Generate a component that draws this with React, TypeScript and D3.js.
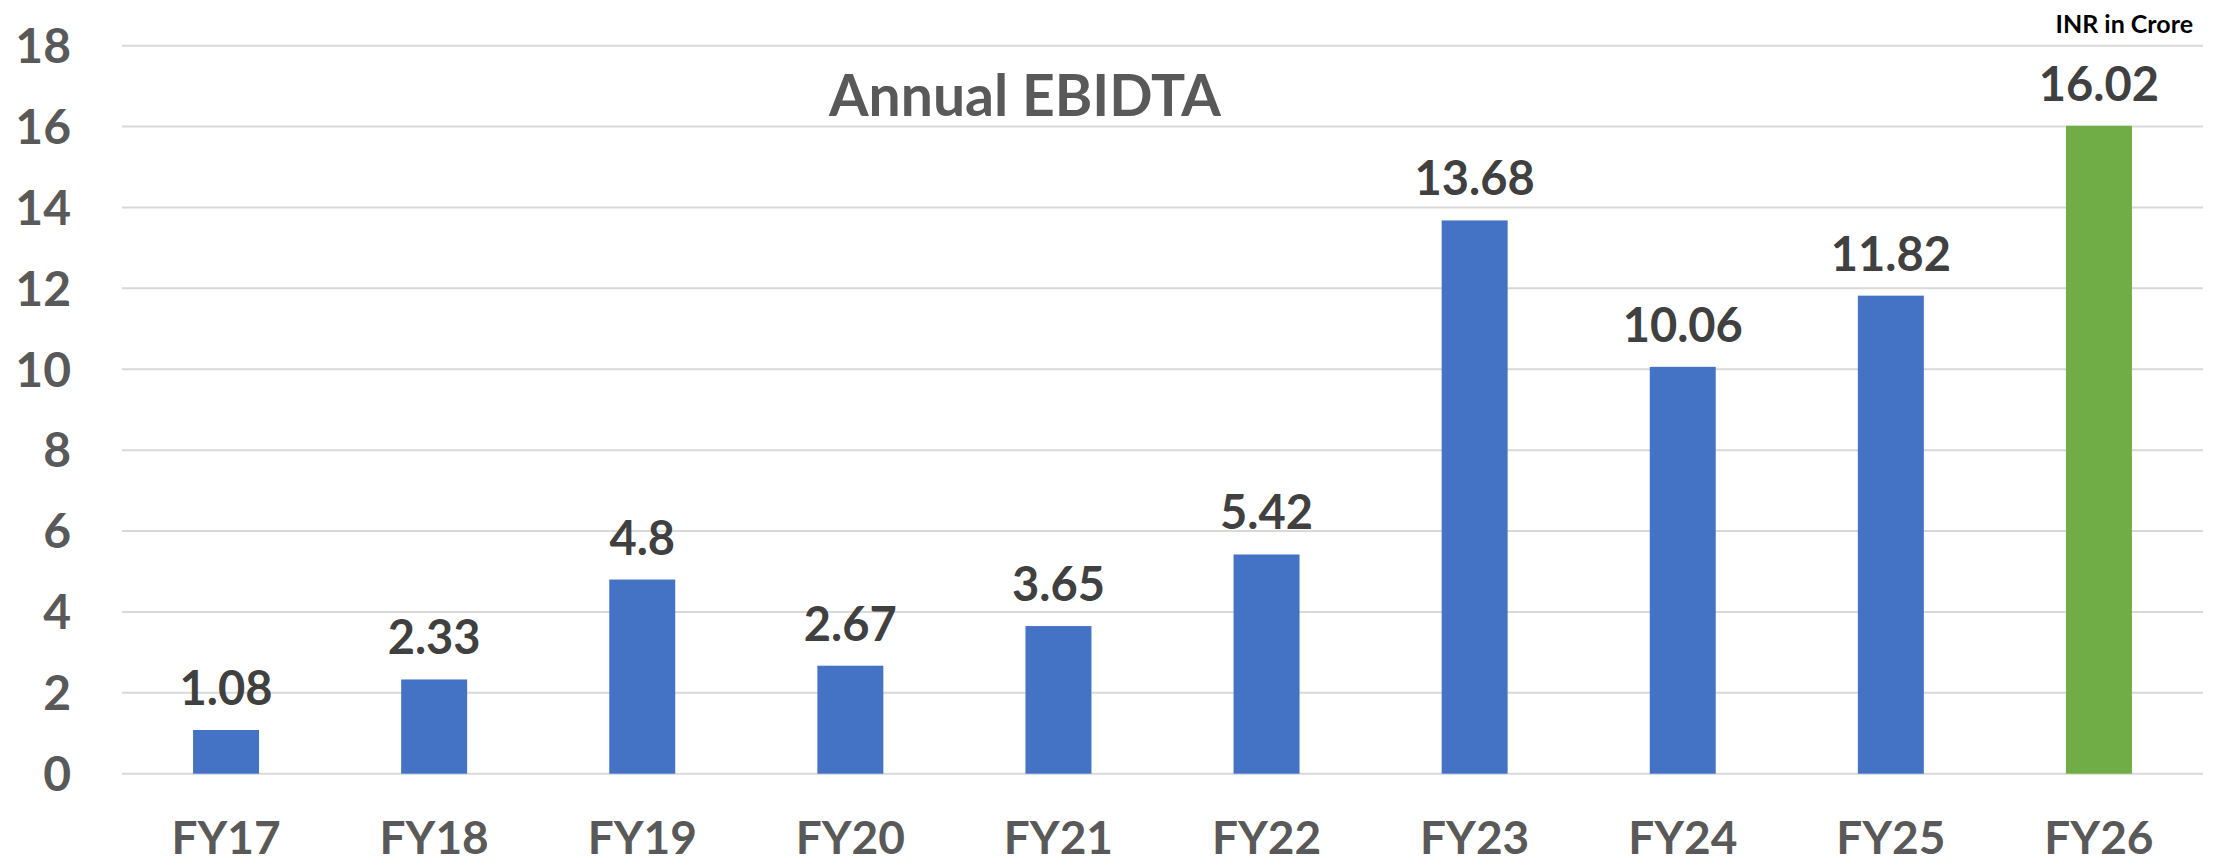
import React, { useEffect, useRef } from 'react'
import * as d3 from 'd3'

const categories = ['FY17', 'FY18', 'FY19', 'FY20', 'FY21', 'FY22', 'FY23', 'FY24', 'FY25', 'FY26']
const values = [1.08, 2.33, 4.8, 2.67, 3.65, 5.42, 13.68, 10.06, 11.82, 16.02]
const yTicks = [0, 2, 4, 6, 8, 10, 12, 14, 16, 18]

const App = () => {
    const ref = useRef<SVGSVGElement>(null)

    useEffect(() => {
        draw()
    })

    const draw = () => {
        const width = 2226
        const height = 865
        const margin = { top: 45.7, right: 23, bottom: 91.3, left: 122 }
        const font = 'Lato, "Open Sans", sans-serif'

        const svg = d3.select(ref.current)
        svg.selectAll('*').remove()

        const x = d3
            .scaleBand()
            .domain(categories)
            .range([margin.left, width - margin.right])
            .paddingInner(0.683)
            .paddingOuter(0.3415)
        const y = d3
            .scaleLinear()
            .domain([0, 18])
            .range([height - margin.bottom, margin.top])

        // gridlines
        svg.append('g')
            .selectAll('line')
            .data(yTicks)
            .enter()
            .append('line')
            .attr('x1', margin.left)
            .attr('x2', width - margin.right)
            .attr('y1', (d) => y(d))
            .attr('y2', (d) => y(d))
            .attr('stroke', '#d9d9d9')
            .attr('stroke-width', 2)

        // y tick labels
        svg.append('g')
            .selectAll('text')
            .data(yTicks)
            .enter()
            .append('text')
            .attr('x', 71)
            .attr('y', (d) => y(d))
            .attr('dy', '0.36em')
            .attr('text-anchor', 'end')
            .attr('font-family', font)
            .attr('font-weight', 700)
            .attr('font-size', 48)
            .attr('fill', '#595959')
            .text((d) => d)

        // bars
        svg.append('g')
            .selectAll('rect')
            .data(values)
            .enter()
            .append('rect')
            .attr('x', (d, i) => x(categories[i]) || 0)
            .attr('width', x.bandwidth())
            .attr('y', (d) => y(d))
            .attr('height', (d) => y(0) - y(d))
            .attr('fill', (d, i) => (i === categories.length - 1 ? '#70ad47' : '#4472c4'))

        // value labels
        svg.append('g')
            .selectAll('text')
            .data(values)
            .enter()
            .append('text')
            .attr('x', (d, i) => (x(categories[i]) || 0) + x.bandwidth() / 2)
            .attr('y', (d) => y(d) - 25)
            .attr('text-anchor', 'middle')
            .attr('font-family', font)
            .attr('font-weight', 700)
            .attr('font-size', 47)
            .attr('fill', '#404040')
            .text((d) => d)

        // x labels
        svg.append('g')
            .selectAll('text')
            .data(categories)
            .enter()
            .append('text')
            .attr('x', (d) => (x(d) || 0) + x.bandwidth() / 2)
            .attr('y', 854)
            .attr('text-anchor', 'middle')
            .attr('font-family', font)
            .attr('font-weight', 700)
            .attr('font-size', 46)
            .attr('fill', '#595959')
            .text((d) => d)

        // title
        svg.append('text')
            .attr('x', 1025)
            .attr('y', 116)
            .attr('text-anchor', 'middle')
            .attr('font-family', font)
            .attr('font-weight', 700)
            .attr('font-size', 57)
            .attr('fill', '#595959')
            .text('Annual EBIDTA')

        // unit note
        svg.append('text')
            .attr('x', 2193)
            .attr('y', 33)
            .attr('text-anchor', 'end')
            .attr('font-family', font)
            .attr('font-weight', 700)
            .attr('font-size', 25)
            .attr('fill', '#000000')
            .text('INR in Crore')
    }

    return (
        <svg
            ref={ref}
            width={2226}
            height={865}
            style={{ position: 'absolute', top: 0, left: 0, background: '#ffffff' }}
        />
    )
}

export default App
